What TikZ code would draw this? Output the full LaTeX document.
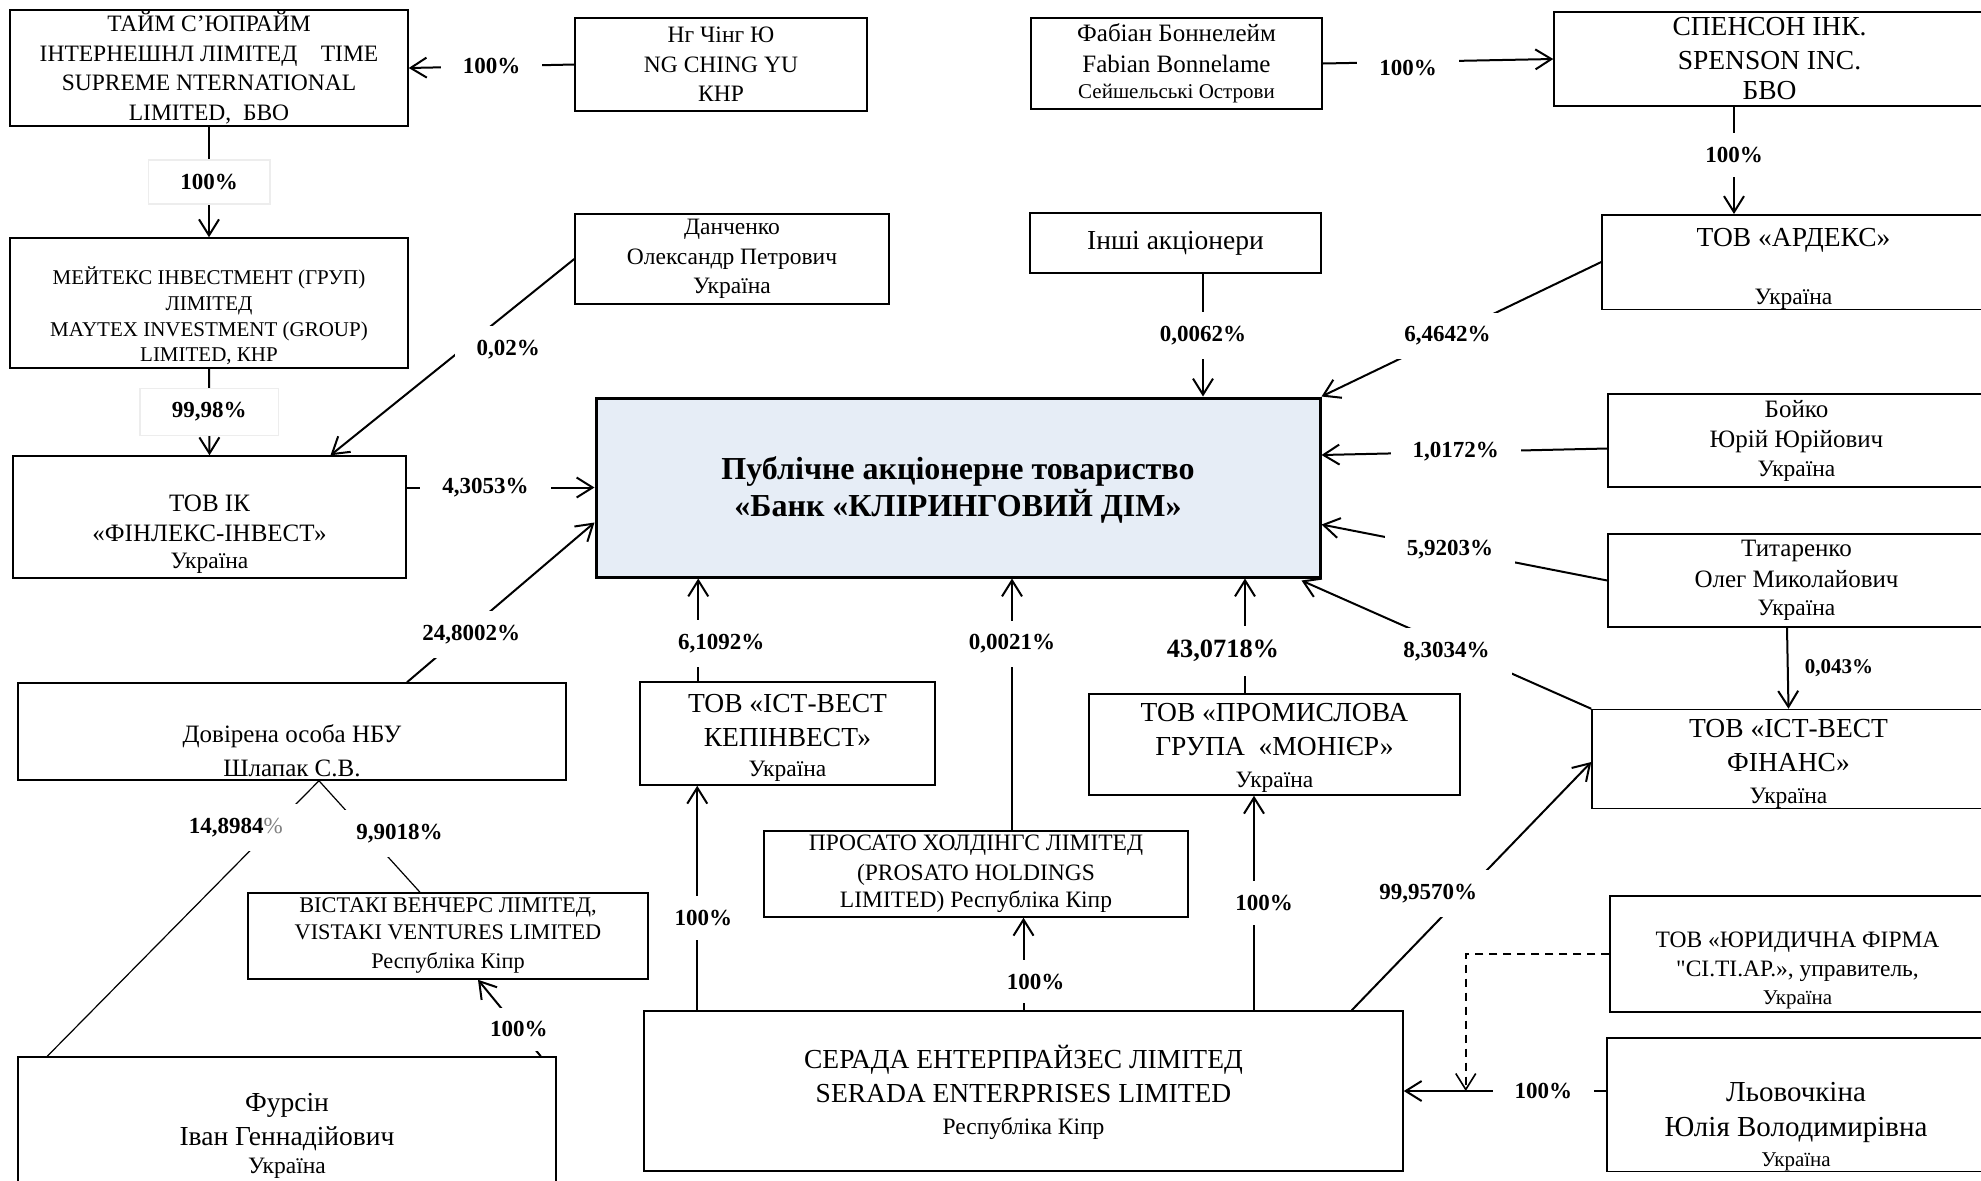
\documentclass[tikz,border=0pt]{standalone}
\usepackage{fontspec}
\setmainfont{Liberation Serif}
\newfontfamily\plainquote{Liberation Serif}
\usepackage{tikz}
\usetikzlibrary{calc}
\usetikzlibrary{arrows.meta}
\definecolor{bankfill}{RGB}{230,237,246}
\newcommand{\fnorm}{\fontsize{11.75}{14.75}\selectfont}
\newcommand{\fmid}{\fontsize{12.5}{15.25}\selectfont}
\newcommand{\fbig}{\fontsize{13.75}{17}\selectfont}
\newcommand{\fmay}{\fontsize{10.5}{12.85}\selectfont}
\newcommand{\ftiny}{\fontsize{10.5}{12.5}\selectfont}
\newcommand{\fbank}{\bfseries\fontsize{16}{18.5}\selectfont}
\newcommand{\flab}{\bfseries\fontsize{11.5}{13}\selectfont}
\newcommand{\flabbig}{\bfseries\fontsize{13.2}{15}\selectfont}
\newcommand{\flabsm}{\bfseries\fontsize{10.5}{12}\selectfont}
\tikzset{
  box/.style={draw, line width=0.75pt, align=center, inner sep=0pt, font=\fnorm},
  wh/.style 2 args={minimum width=#1*0.5pt, minimum height=#2*0.5pt},
  pct/.style={fill=white, font=\flab, inner xsep=11pt, inner ysep=7pt},
  pctbox/.style={pct, draw=black!7, line width=0.75pt, inner xsep=16pt},
  arr/.style={-{Straight Barb[length=8pt,width=10pt]}, line width=1pt},
  thinline/.style={line width=0.6pt}
}

\begin{document}
\begin{tikzpicture}[x=0.5pt,y=-0.5pt]
\useasboundingbox (0,0) rectangle (1981,1180);
\clip (0,0) rectangle (1981,1180);

% top row
\node[box, wh={398}{116}] (time) at (209,68) {ТАЙМ С’ЮПРАЙМ\\ІНТЕРНЕШНЛ ЛІМІТЕД\quad TIME\\SUPREME NTERNATIONAL\\LIMITED,\ \ БВО};
\node[box, wh={292}{93}] (ng) at (721,64.5) {Нг Чінг Ю\\NG CHING YU\\КНР};
\node[box, wh={291}{91}, font=\fmid] (fab) at (1176.5,63.5) {Фабіан Боннелейм\\Fabian Bonnelame\\[-2pt]{\ftiny Сейшельські Острови}};
\node[box, wh={431}{94}, font=\fbig] (spen) at (1769.5,59) {СПЕНСОН ІНК.\\SPENSON INC.\\[-2pt]БВО};

% second row
\node[box, wh={291}{60}, font=\fbig] (other) at (1175.5,243) {Інші акціонери};
\node[box, wh={383}{94}] (ardex) at (1793.5,262) {\rule{0pt}{16pt}{\fbig ТОВ «АРДЕКС»}\\[14pt]Україна};
\node[box, wh={314}{90}] (dan) at (732,259) {Данченко\\Олександр Петрович\\Україна};
\node[box, wh={398}{130}, font=\fmay] (maytex) at (209,303) {\rule{0pt}{22pt}МЕЙТЕКС ІНВЕСТМЕНТ (ГРУП)\\ЛІМІТЕД\\MAYTEX INVESTMENT (GROUP)\\LIMITED, КНР};

% middle
\node[box, wh={393}{122}, font=\fmid] (fin) at (209.5,517) {\rule{0pt}{25pt}ТОВ ІК\\«ФІНЛЕКС-ІНВЕСТ»\\[-2pt]{\fnorm Україна}};
\node[box, wh={724}{179}, line width=1.5pt, fill=bankfill, font=\fbank] (bank) at (958,487.5) {\rule{0pt}{14pt}Публічне акціонерне товариство\\«Банк «КЛІРИНГОВИЙ ДІМ»};
\node[box, wh={377}{93}, font=\fmid] (boyko) at (1796.5,440.5) {Бойко\\Юрій Юрійович\\[-1pt]{\fnorm Україна}};
\node[box, wh={377}{93}, font=\fmid] (tyt) at (1796.5,580.5) {Титаренко\\Олег Миколайович\\[-1pt]{\fnorm Україна}};

% lower middle
\node[box, wh={548}{97}, font=\fmid] (dov) at (292,731.5) {\rule{0pt}{28pt}Довірена особа НБУ\\[1.75pt]Шлапак С.В.};
\node[box, wh={295}{103}, font=\fbig] (kep) at (787.5,733.5) {\rule{0pt}{13pt}ТОВ «ІСТ-ВЕСТ\\КЕПІНВЕСТ»\\[-2pt]{\fnorm Україна}};
\node[box, wh={371}{101}, font=\fbig] (mon) at (1274.5,744.5) {\rule{0pt}{12pt}ТОВ «ПРОМИСЛОВА\\ГРУПА\ \ «МОНІЄР»\\[-1pt]{\fnorm Україна}};
\node[box, wh={393}{96}, font=\fbig] (finans) at (1788.5,759) {\rule{0pt}{14pt}ТОВ «ІСТ-ВЕСТ\\ФІНАНС»\\[-1pt]{\fnorm Україна}};

% bottom
\node[box, wh={400}{86}, font=\fontsize{11.15}{13.5}\selectfont] (vist) at (448,936) {ВІСТАКІ ВЕНЧЕРС ЛІМІТЕД,\\VISTAKI VENTURES LIMITED\\[1pt]Республіка Кіпр};
\node[box, wh={424}{86}] (pros) at (976,874) {ПРОСАТО ХОЛДІНГС ЛІМІТЕД\\(PROSATO HOLDINGS\\[-1pt]LIMITED) Республіка Кіпр};
\node[box, wh={538}{153}, font=\fbig] (furs) at (287,1133.5) {\rule{0pt}{11pt}Фурсін\\Іван Геннадійович\\[-3pt]{\fnorm Україна}};
\node[box, wh={759}{160}, font=\fbig] (serada) at (1023.5,1091) {\rule{0pt}{13pt}СЕРАДА ЕНТЕРПРАЙЗЕС ЛІМІТЕД\\SERADA ENTERPRISES LIMITED\\[-1pt]{\fnorm Республіка Кіпр}};
\node[box, wh={375}{116}] (yur) at (1797.5,954) {\rule{0pt}{24pt}ТОВ «ЮРИДИЧНА ФІРМА\\{\plainquote"}СІ.ТІ.АР.», управитель,\\[-1pt]{\ftiny Україна}};
\node[box, wh={378}{133}, font=\fontsize{14.5}{17.5}\selectfont] (lyov) at (1796,1104.5) {\rule{0pt}{32pt}Льовочкіна\\Юлія Володимирівна\\[-2.5pt]{\ftiny Україна}};

% ownership lines, top left
\draw[arr] (ng.west) -- node[pct] (p1) {100\%} (time.east);
\draw[arr] (time.south) -- node[pctbox] (p2) {100\%} (maytex.north);
\draw[arr] (maytex.south) -- node[pctbox] (p3) {99,98\%} (fin.north);
\draw[arr] (dan.west) -- node[pct, pos=0.46, xshift=23pt] (p4) {0,02\%} ($(fin.north)+(121,0)$);
\draw[arr] (fin.east |- bank.west) -- node[pct, pos=0.42] (p5) {4,3053\%} (bank.west);
\draw[arr] ($(dov.north)+(115,0)$) -- node[pct, pos=0.3, xshift=4pt] (p6) {24,8002\%} ($(bank.west)+(0,35)$);

% trust manager lines
\coordinate (apex) at ($(dov.south)+(27,0)$);
\draw[thinline] (apex) -- node[pct, pos=0.17, xshift=-18.5pt] (p7) {14,8984{\mdseries\color{gray}\%}} ($(furs.north west)+(30,0)$);
\draw[thinline] (apex) -- node[pct, pos=0.47, xshift=16.5pt] (p8) {9,9018\%} ($(vist.north)+(-28,0)$);
\draw[arr] ($(furs.north east)+(-16,0)$) -- node[pct, pos=0.35] (p9) {100\%} ($(vist.south)+(30,0)$);

% into the bank from below
\draw[arr] ($(kep.north west)+(59,0)$) coordinate (k1) -- node[pct, pos=0.37, xshift=11.5pt] (p10) {6,1092\%} (k1 |- bank.south);
\draw[arr] ($(pros.north)+(36,0)$) coordinate (r1) -- node[pct, pos=0.74] (p11) {0,0021\%} (r1 |- bank.south);
\draw[arr] ($(mon.north)+(-29.5,0)$) coordinate (m1) -- node[pct, pos=0.37, xshift=-11pt, font=\flabbig] (p12) {43,0718\%} (m1 |- bank.south);

% top right
\draw[arr] (fab.east) -- node[pct, pos=0.37, yshift=-3pt] (p13) {100\%} (spen.west);
\draw[arr] ($(spen.south)+(-35.5,0)$) coordinate (a1) -- node[pct, pos=0.45] (p14) {100\%} (a1 |- ardex.north);
\draw[arr] ($(other.south)+(27.5,0)$) coordinate (o1) -- node[pct] (p15) {0,0062\%} (o1 |- bank.north);
\draw[arr] (ardex.west) -- node[pct, pos=0.55] (p16) {6,4642\%} (bank.north east);
\draw[arr] ($(boyko.west)+(0,8)$) -- node[pct, pos=0.53] (p17) {1,0172\%} ($(bank.east)+(0,-32.5)$);
\draw[arr] (tyt.west) -- node[pct, pos=0.55] (p18) {5,9203\%} ($(bank.east)+(0,37)$);
\draw[arr] ($(tyt.south)+(-9.5,0)$) -- node[right, font=\flabsm, inner sep=0pt, xshift=8pt] (p19) {0,043\%} (finans.north);
\draw[arr] (finans.north west) -- node[pct, pos=0.5, yshift=-3.5pt] (p20) {8,3034\%} ($(bank.south east)+(-20,2)$);

% from Serada
\draw[arr] ($(serada.north west)+(54,0)$) coordinate (s1) -- node[pct, pos=0.41, xshift=3pt] (p21) {100\%} (s1 |- kep.south);
\draw[arr] (serada.north) -- node[pct, pos=0.31, xshift=6pt] (p22) {100\%} (serada.north |- pros.south);
\draw[arr] ($(serada.north)+(230.5,0)$) coordinate (s2) -- node[pct, pos=0.5, xshift=5pt] (p23) {100\%} (s2 |- mon.south);
\draw[arr] ($(serada.north east)+(-52,0)$) -- node[pct, pos=0.47, xshift=-18pt] (p24) {99,9570\%} ($(finans.west)+(0,3)$);
\draw[arr] (lyov.west |- serada.east) -- node[pct, pos=0.31] (p25) {100\%} (serada.east);
\coordinate (jn) at ($(serada.east)+(62,0)$);
\draw[arr, line width=0.8pt, dash pattern=on 4pt off 3pt] (yur.west) -| (jn);

\end{tikzpicture}
\end{document}
